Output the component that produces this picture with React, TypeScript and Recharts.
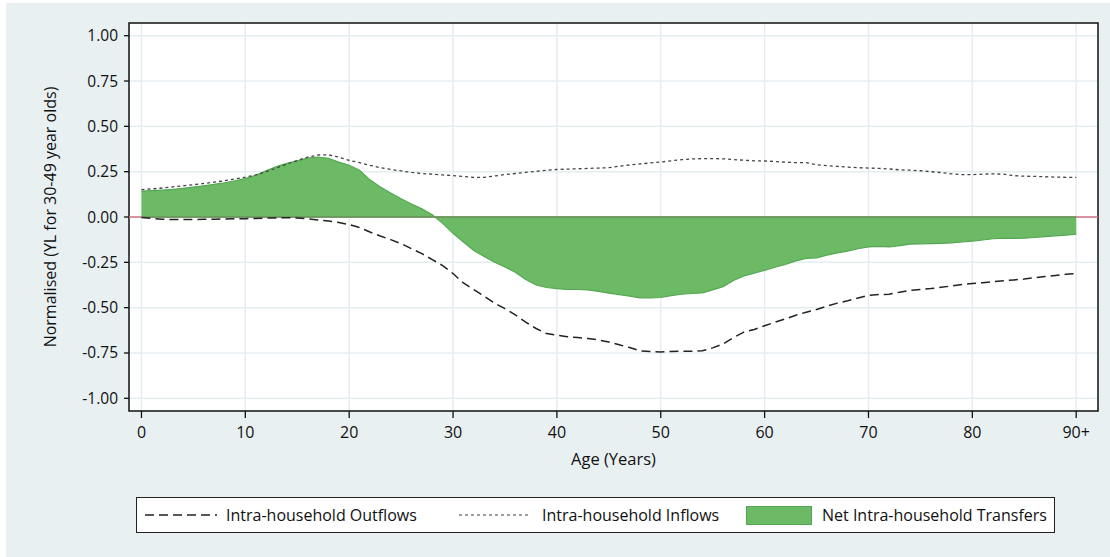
import {
  ComposedChart,
  Area,
  Line,
  XAxis,
  YAxis,
  CartesianGrid,
  ReferenceLine,
  ReferenceArea,
  Legend,
} from "recharts";

const ages = Array.from({ length: 91 }, (_, i) => i);

const inflows = [
  0.151, 0.155, 0.16, 0.166, 0.172, 0.178, 0.185, 0.192, 0.2, 0.21,
  0.22, 0.232, 0.25, 0.27, 0.292, 0.312, 0.33, 0.342, 0.343, 0.33,
  0.312, 0.3, 0.285, 0.272, 0.262, 0.254, 0.246, 0.24, 0.236, 0.232,
  0.228, 0.224, 0.218, 0.219, 0.226, 0.234, 0.24, 0.246, 0.252, 0.258,
  0.262, 0.264, 0.266, 0.268, 0.27, 0.272, 0.28, 0.287, 0.293, 0.298,
  0.303, 0.31, 0.316, 0.32, 0.322, 0.322, 0.321, 0.317, 0.313, 0.31,
  0.309, 0.306, 0.302, 0.3, 0.3, 0.288, 0.283, 0.279, 0.275, 0.272,
  0.27, 0.268, 0.265, 0.26, 0.258, 0.255, 0.25, 0.245, 0.238, 0.234,
  0.234, 0.236, 0.238, 0.236, 0.228, 0.225, 0.224, 0.222, 0.22, 0.219,
  0.219,
];

const outflows = [
  -0.003, -0.008, -0.012, -0.014, -0.014, -0.014, -0.013, -0.012, -0.011, -0.01,
  -0.009, -0.008, -0.006, -0.005, -0.004, -0.005, -0.01, -0.016, -0.022, -0.03,
  -0.042, -0.058, -0.083, -0.105, -0.125, -0.147, -0.175, -0.202, -0.235, -0.268,
  -0.312, -0.364, -0.4, -0.437, -0.475, -0.505, -0.54, -0.58, -0.615, -0.643,
  -0.652, -0.66, -0.665, -0.67, -0.678, -0.69, -0.705, -0.72, -0.738, -0.742,
  -0.744, -0.742, -0.74, -0.74, -0.738, -0.722, -0.7, -0.665, -0.635, -0.62,
  -0.6, -0.58, -0.562, -0.542, -0.525, -0.51, -0.492, -0.475, -0.462, -0.447,
  -0.432, -0.428, -0.426, -0.415, -0.405, -0.4, -0.395, -0.388, -0.38, -0.372,
  -0.367, -0.362, -0.357, -0.352, -0.347, -0.342, -0.335, -0.328, -0.322, -0.316,
  -0.312,
];

const net = [
  0.143, 0.145, 0.148, 0.152, 0.158, 0.165, 0.172, 0.18, 0.189, 0.2,
  0.212, 0.23, 0.255, 0.278, 0.296, 0.31, 0.325, 0.331, 0.324, 0.303,
  0.285, 0.258, 0.205, 0.165, 0.132, 0.101, 0.072, 0.045, 0.012, -0.035,
  -0.09, -0.138, -0.185, -0.218, -0.25, -0.275, -0.305, -0.345, -0.375, -0.389,
  -0.395, -0.4, -0.4, -0.402, -0.41, -0.42, -0.428, -0.436, -0.446, -0.446,
  -0.444, -0.434, -0.426, -0.422, -0.418, -0.402, -0.384, -0.35, -0.325, -0.31,
  -0.294, -0.277, -0.262, -0.242, -0.228, -0.225, -0.21, -0.198, -0.188, -0.175,
  -0.165, -0.162, -0.165, -0.158, -0.15, -0.148, -0.147, -0.145, -0.143, -0.138,
  -0.133, -0.127, -0.12, -0.116, -0.118, -0.117, -0.113, -0.108, -0.104, -0.1,
  -0.095,
];

const xTicks = [0, 10, 20, 30, 40, 50, 60, 70, 80, 90];
const yTicks = [-1, -0.75, -0.5, -0.25, 0, 0.25, 0.5, 0.75, 1];

const data = ages.map((age, i) => ({
  age,
  inflow: inflows[i],
  outflow: outflows[i],
  net: net[i],
}));

const FONT = "'Open Sans', sans-serif";
const X_DOMAIN = [-1.2, 92.1];
const Y_DOMAIN = [-1.07, 1.07];

function YTitle() {
  const cx = 50;
  const cy = 217;
  return (
    <text
      x={cx}
      y={cy}
      transform={`rotate(-90, ${cx}, ${cy})`}
      textAnchor="middle"
      dominantBaseline="central"
      fill="#111"
      fontSize={16}
      fontFamily={FONT}
    >
      Normalised (YL for 30-49 year olds)
    </text>
  );
}

function LegendBox() {
  const text: React.CSSProperties = { fontSize: 16, color: "#111", fontFamily: FONT, lineHeight: "20px" };
  return (
    <div
      style={{
        width: 919,
        height: 36,
        boxSizing: "border-box",
        background: "#fff",
        border: "1px solid #222",
        position: "relative",
      }}
    >
      <svg width={80} height={10} style={{ position: "absolute", left: 8, top: 12 }}>
        <line x1={0} y1={5} x2={72} y2={5} stroke="#222" strokeWidth={1.5} strokeDasharray="9 5" />
      </svg>
      <span style={{ ...text, position: "absolute", left: 89, top: 7 }}>Intra-household Outflows</span>
      <svg width={80} height={10} style={{ position: "absolute", left: 322, top: 12 }}>
        <line x1={0} y1={5} x2={72} y2={5} stroke="#444" strokeWidth={1.2} strokeDasharray="3 3" />
      </svg>
      <span style={{ ...text, position: "absolute", left: 405, top: 7 }}>Intra-household Inflows</span>
      <div
        style={{
          position: "absolute",
          left: 609,
          top: 8,
          width: 66,
          height: 19,
          boxSizing: "border-box",
          background: "#6cba66",
          border: "1px solid #52a552",
        }}
      />
      <span style={{ ...text, position: "absolute", left: 685, top: 7 }}>Net Intra-household Transfers</span>
    </div>
  );
}

export default function App() {
  return (
    <div style={{ position: "absolute", left: 0, top: 0, width: 1110, height: 557, background: "#fff" }}>
      <div
        style={{ position: "absolute", left: 6, top: 3, width: 1104, height: 554, background: "#e9f0f2" }}
      />
      <div style={{ position: "absolute", left: 0, top: 0 }}>
        <ComposedChart
          width={1110}
          height={557}
          data={data}
          margin={{ top: 23, right: 12, bottom: 80, left: 69 }}
          style={{ fontFamily: FONT }}
        >
          <CartesianGrid
            fill="#fff"
            stroke="#e4edf0"
            strokeWidth={1.5}
            horizontalValues={yTicks}
            verticalValues={xTicks}
          />
          <XAxis
            dataKey="age"
            type="number"
            domain={X_DOMAIN}
            ticks={xTicks}
            allowDataOverflow
            axisLine={false}
            tickLine={{ stroke: "#111", strokeWidth: 1.3 }}
            tickSize={7}
            tickMargin={9}
            height={30}
            tick={{ fill: "#111", fontSize: 16, fontFamily: FONT }}
            tickFormatter={(v) => (v === 90 ? "90+" : String(v))}
            label={{
              value: "Age (Years)",
              position: "insideBottom",
              offset: -24,
              fill: "#111",
              fontSize: 16.5,
              fontFamily: FONT,
            }}
          />
          <YAxis
            type="number"
            domain={Y_DOMAIN}
            ticks={yTicks}
            allowDataOverflow
            axisLine={false}
            tickLine={{ stroke: "#111", strokeWidth: 1.3 }}
            tickSize={5}
            tickMargin={6}
            width={60}
            tick={{ fill: "#111", fontSize: 15.5, fontFamily: FONT }}
            tickFormatter={(v) => Number(v).toFixed(2)}
            label={{ content: () => <YTitle /> }}
          />
          <ReferenceLine y={0} stroke="#d47085" strokeWidth={1.5} />
          <Area
            dataKey="net"
            type="linear"
            baseValue={0}
            fill="#6cba66"
            fillOpacity={1}
            stroke="#55a852"
            strokeWidth={1.2}
            isAnimationActive={false}
          />
          <ReferenceLine
            segment={[{ x: 0, y: 0 }, { x: 90, y: 0 }]}
            stroke="#55a055"
            strokeWidth={1.5}
          />
          <Line
            dataKey="outflow"
            type="linear"
            stroke="#222"
            strokeWidth={1.5}
            strokeDasharray="9 5"
            dot={false}
            isAnimationActive={false}
          />
          <Line
            dataKey="inflow"
            type="linear"
            stroke="#444"
            strokeWidth={1.3}
            strokeDasharray="3 3"
            dot={false}
            isAnimationActive={false}
          />
          <ReferenceArea
            x1={X_DOMAIN[0]}
            x2={X_DOMAIN[1]}
            y1={Y_DOMAIN[0]}
            y2={Y_DOMAIN[1]}
            fill="none"
            fillOpacity={0}
            stroke="#111"
            strokeWidth={1.5}
            ifOverflow="visible"
          />
          <Legend
            content={() => <LegendBox />}
            wrapperStyle={{ position: "absolute", left: 136, top: 497, width: 919, height: 36 }}
          />
        </ComposedChart>
      </div>
    </div>
  );
}
